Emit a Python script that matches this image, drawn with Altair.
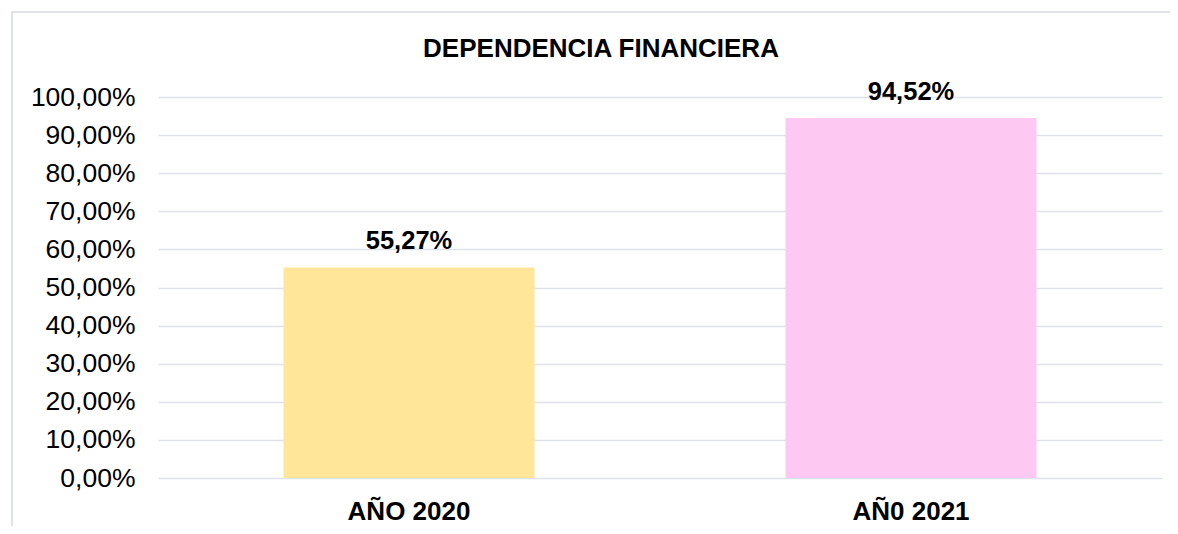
import altair as alt
import pandas as pd

categories = ["AÑO 2020", "AÑ0 2021"]
values = [0.5527, 0.9452]
colors = ["#FFE699", "#FDC8F2"]
title_text = "DEPENDENCIA FINANCIERA"
tick_values = [0.0, 0.1, 0.2, 0.3, 0.4, 0.5, 0.6, 0.7, 0.8, 0.9, 1.0]

df = pd.DataFrame({
    "cat": categories,
    "val": values,
    "color": colors,
    "label": [f"{v*100:.2f}".replace(".", ",") + "%" for v in values],
})

FONT = "Liberation Sans"
W, H = 1004, 381

x_axis = alt.Axis(labelAngle=0, domain=False, ticks=False,
                  labelPadding=41, labelBaseline="alphabetic",
                  labelFont=FONT, labelFontSize=26,
                  labelFontWeight="bold", labelColor="#000000",
                  grid=False)
y_axis = alt.Axis(values=tick_values,
                  labelExpr="replace(format(datum.value*100, '.2f'), '.', ',') + '%'",
                  labelOverlap=False,
                  domain=False, ticks=False, labelPadding=23,
                  labelFont=FONT, labelFontSize=26.5,
                  labelColor="#000000", labelBaseline="middle",
                  grid=True, gridColor="#dfe2e8", gridWidth=1.5)
x_scale = alt.Scale(paddingInner=0, paddingOuter=0)
y_scale = alt.Scale(domain=[0, 1], nice=False, zero=True)

frame = alt.Chart(alt.Data(values=[{}])).mark_rect(
    fill=None, stroke="#dfe2e8", strokeWidth=2
).encode(
    x=alt.value(-146), y=alt.value(-85),
    x2=alt.value(W + 100), y2=alt.value(H + 100),
)

title = alt.Chart(alt.Data(values=[{"t": title_text}])).mark_text(
    font=FONT, fontSize=26, fontWeight="bold", color="#000000",
    baseline="alphabetic", align="center",
).encode(
    x=alt.value(443), y=alt.value(-40), text="t:N",
)

bars = alt.Chart(df).mark_bar(size=251).encode(
    x=alt.X("cat:N", sort=categories, title=None, scale=x_scale, axis=x_axis),
    y=alt.Y("val:Q", title=None, scale=y_scale, axis=y_axis),
    color=alt.Color("color:N", scale=None, legend=None),
)

labels = alt.Chart(df).mark_text(
    font=FONT, fontSize=25.5, fontWeight="bold", color="#000000",
    baseline="alphabetic", dy=-18,
).encode(
    x=alt.X("cat:N", sort=categories, title=None, scale=x_scale, axis=x_axis),
    y=alt.Y("val:Q", title=None, scale=y_scale, axis=y_axis),
    text="label:N",
)

chart = alt.layer(frame, title, bars, labels).properties(
    width=W, height=H,
    background="#ffffff",
    autosize=alt.AutoSizeParams(type="none"),
    padding={"left": 150, "top": 89, "right": 8, "bottom": 48},
).configure_view(strokeWidth=0, stroke="transparent")

chart.save("out.html", embed_options={"renderer": "svg", "actions": False})
